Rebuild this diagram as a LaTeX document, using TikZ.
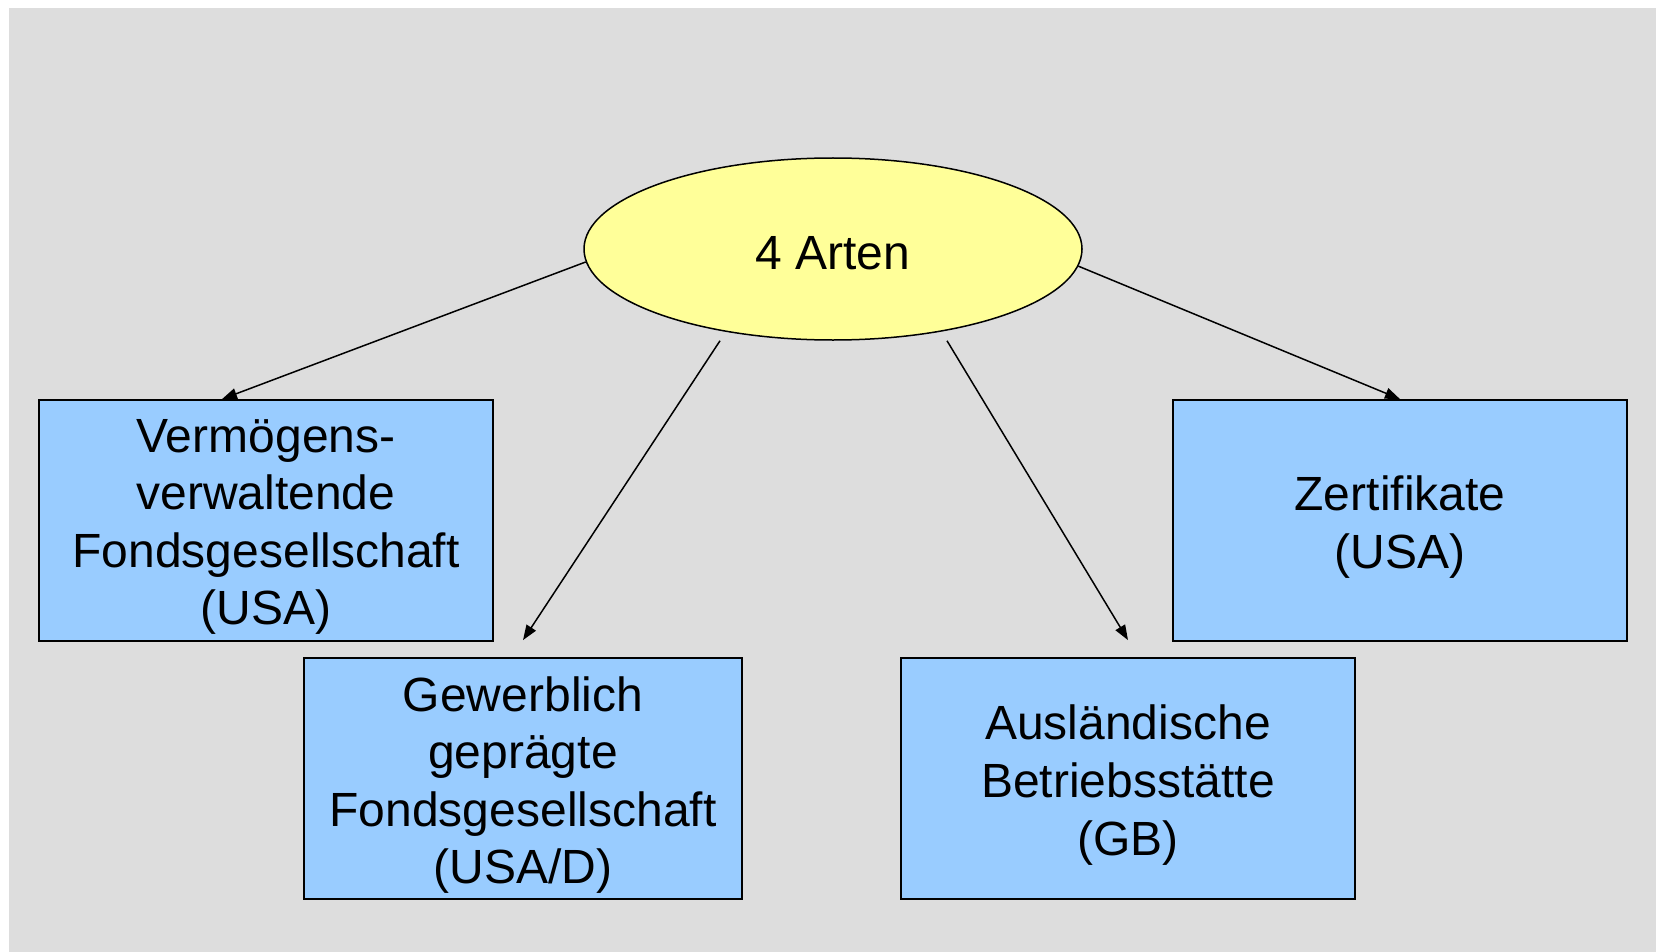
\documentclass[tikz,border=0pt]{standalone}
\usepackage{fontspec}
\setmainfont{Liberation Sans}
\usetikzlibrary{shapes.geometric,arrows.meta}
\definecolor{bggray}{HTML}{DDDDDD}
\definecolor{ellyellow}{HTML}{FFFF99}
\definecolor{boxblue}{HTML}{99CCFF}
\begin{document}
\begin{tikzpicture}[x=1pt,y=-1pt,
  boxnode/.style={draw=black,line width=1.8pt,fill=boxblue,rectangle,minimum width=454pt,minimum height=241pt,inner sep=0pt},
  txt/.style={align=center,inner sep=0pt,font=\fontsize{48}{57.6}\selectfont},
  ellnode/.style={draw=black,line width=1.5pt,fill=ellyellow,ellipse,minimum width=498pt,minimum height=182pt,inner sep=0pt},
  arr/.style={line width=1.5pt,-{Triangle[length=15pt,width=11pt]}}]
\useasboundingbox (0,0) rectangle (1656,952);
\fill[bggray] (9,8) rectangle (1656,952);
\node[ellnode] (e) at (833,249) {};
\node[txt] (et) at ([yshift=-4pt]e.center) {4 Arten};
\node[boxnode] (b1) at (266,520.5) {};
\node[boxnode,minimum width=438pt] (b2) at (523,778.5) {};
\node[boxnode] (b3) at (1128,778.5) {};
\node[boxnode] (b4) at (1400,520.5) {};
\node[txt] (b1t) at ([yshift=-6.5pt]b1.center) {Vermögens-\\verwaltende\\Fondsgesellschaft\\(USA)};
\node[txt] (b2t) at ([yshift=-6.5pt]b2.center) {Gewerblich\\geprägte\\Fondsgesellschaft\\(USA/D)};
\node[txt] (b3t) at ([yshift=-6.5pt]b3.center) {Ausländische\\Betriebsstätte\\(GB)};
\node[txt] (b4t) at ([yshift=-6.5pt]b4.center) {Zertifikate\\(USA)};
\draw[arr] (e.183.6) -- ([xshift=-44pt]b1.north);
\draw[arr] ([xshift=-113pt]e.south) -- ([yshift=17pt]b2.north);
\draw[arr] ([xshift=114pt]e.south) -- ([yshift=17pt]b3.north);
\draw[arr] (e.356.4) -- (b4.north);
\end{tikzpicture}
\end{document}
